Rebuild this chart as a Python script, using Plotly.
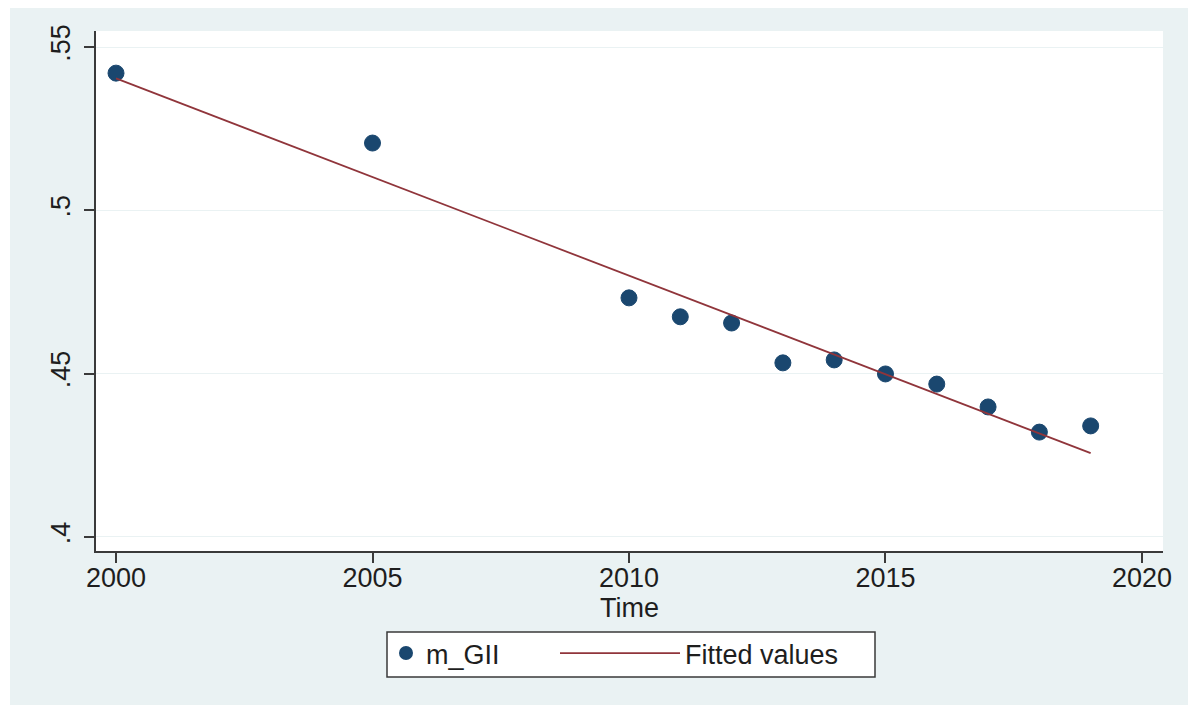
import numpy as np
import plotly.graph_objects as go

# Gender Inequality Index (m_GII) by year
years = [2000, 2005, 2010, 2011, 2012, 2013, 2014, 2015, 2016, 2017, 2018, 2019]
m_gii = [0.542, 0.5206, 0.4732, 0.4674, 0.4655, 0.4533, 0.4542, 0.4499,
         0.4468, 0.4398, 0.4321, 0.4340]

y_tick_vals = [0.40, 0.45, 0.50, 0.55]
y_tick_text = [".4", ".45", ".5", ".55"]
x_tick_vals = [2000, 2005, 2010, 2015, 2020]

# Linear fit over the observed years
slope, intercept = np.polyfit(years, m_gii, 1)
fit_x = [min(years), max(years)]
fit_y = [slope * v + intercept for v in fit_x]

# Page geometry (pixels)
W, H = 1188, 705
L, R, T, B = 96, 25, 31, 154
PW, PH = W - L - R, H - T - B


def px_x(px):
    return (px - L) / PW


def px_y(py):
    return (H - B - py) / PH


NAVY = "#1a476f"
MAROON = "#90353b"
BG = "#eaf2f3"
AXIS = "#3a3a3a"
FONT = dict(family="Liberation Sans, Arial, sans-serif", size=27, color="#1e1e1e")

fig = go.Figure()
fig.add_trace(go.Scatter(
    x=years, y=m_gii, mode="markers", name="m_GII",
    marker=dict(color=NAVY, size=16, line=dict(color=NAVY, width=1)),
    legend="legend",
))
fig.add_trace(go.Scatter(
    x=fit_x, y=fit_y, mode="lines", name="Fitted values",
    line=dict(color=MAROON, width=1.8),
    legend="legend2",
))

shapes = [
    # white page border at left and top
    dict(type="rect", xref="paper", yref="paper",
         x0=px_x(0), x1=px_x(10), y0=px_y(H), y1=px_y(0),
         fillcolor="white", line=dict(width=0), layer="below"),
    dict(type="rect", xref="paper", yref="paper",
         x0=px_x(0), x1=px_x(W), y0=px_y(8), y1=px_y(0),
         fillcolor="white", line=dict(width=0), layer="below"),
    # legend frame
    dict(type="rect", xref="paper", yref="paper",
         x0=px_x(387), x1=px_x(875), y0=px_y(677), y1=px_y(632),
         fillcolor="white", line=dict(color=AXIS, width=1.5), layer="above"),
]

fig.update_layout(
    width=W, height=H,
    margin=dict(l=L, r=R, t=T, b=B, pad=0),
    paper_bgcolor=BG, plot_bgcolor="white",
    font=FONT,
    showlegend=True,
    shapes=shapes,
    legend=dict(
        x=px_x(386), y=px_y(629), xanchor="left", yanchor="top",
        orientation="h", bgcolor="rgba(0,0,0,0)", borderwidth=0,
        font=FONT, itemwidth=30, itemsizing="constant",
    ),
    legend2=dict(
        x=px_x(555), y=px_y(629), xanchor="left", yanchor="top",
        orientation="h", bgcolor="rgba(0,0,0,0)", borderwidth=0,
        font=FONT, itemwidth=120,
    ),
    xaxis=dict(
        range=[1999.61, 2020.41],
        tickvals=x_tick_vals,
        showgrid=False, zeroline=False,
        showline=True, linecolor=AXIS, linewidth=1.5,
        ticks="outside", ticklen=10, tickwidth=1.5, tickcolor=AXIS,
        ticklabelstandoff=-8,
        title=dict(text="Time", standoff=0, font=FONT),
        tickfont=FONT,
    ),
    yaxis=dict(
        range=[0.3957, 0.5549],
        tickvals=y_tick_vals, ticktext=y_tick_text,
        tickangle=-90,
        showgrid=True, gridcolor=BG, gridwidth=1.2,
        zeroline=False,
        showline=True, linecolor=AXIS, linewidth=1.5,
        ticks="outside", ticklen=10, tickwidth=1.5, tickcolor=AXIS,
        ticklabelstandoff=3,
        tickfont=FONT,
    ),
)

fig.write_html("out.html")
